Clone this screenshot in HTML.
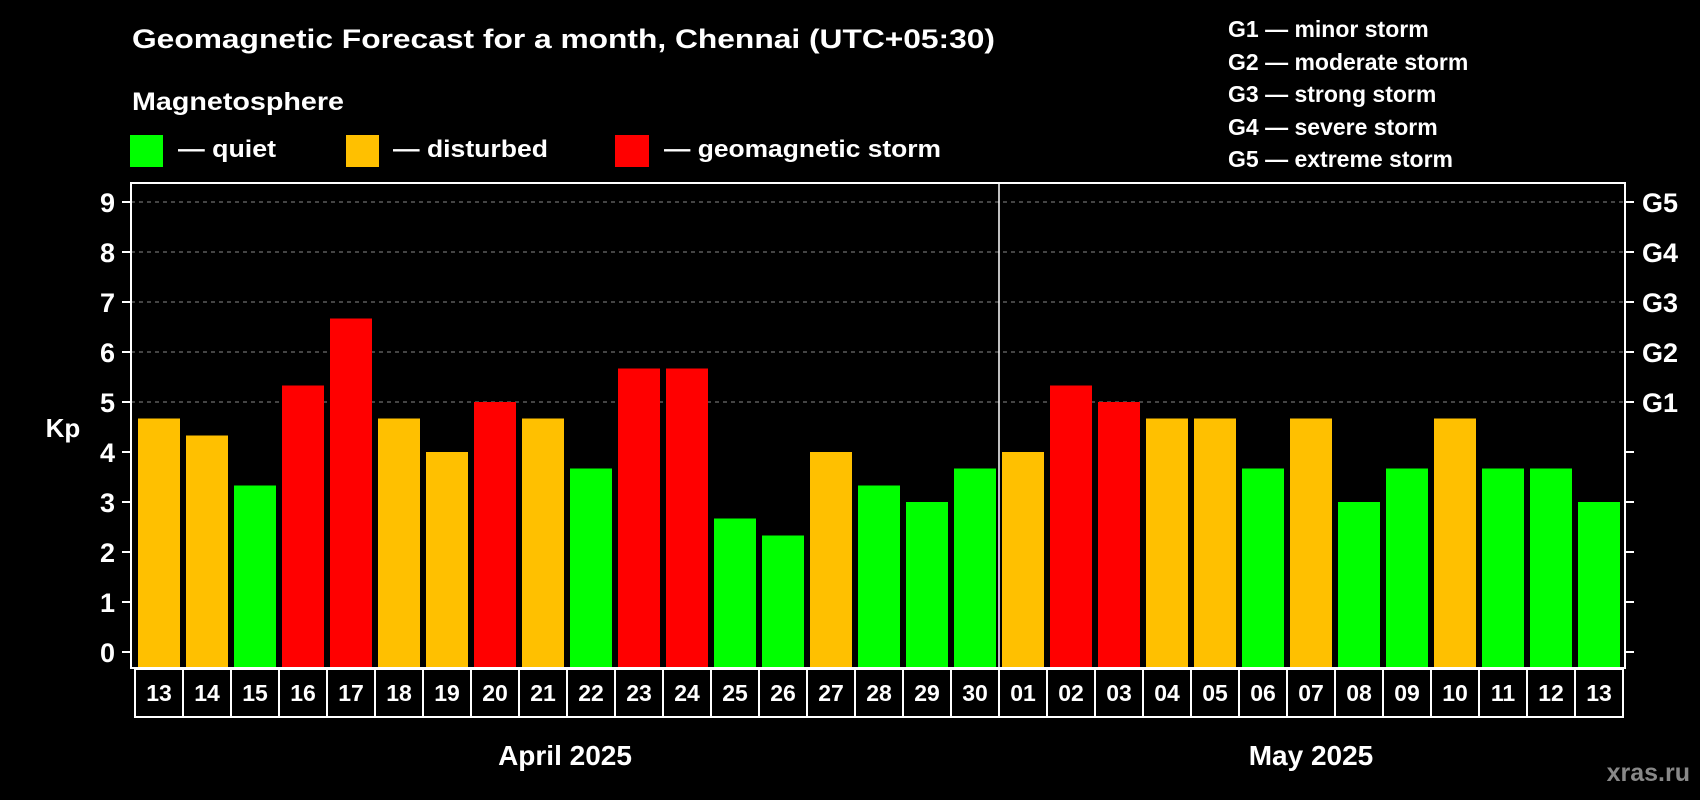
<!DOCTYPE html>
<html><head><meta charset="utf-8"><style>
body{margin:0;background:#000;}
svg{display:block;font-family:"Liberation Sans",Arial,sans-serif;font-weight:bold;}
</style></head><body>
<svg id="chart" width="1700" height="800" viewBox="0 0 1700 800">
<rect width="1700" height="800" fill="#000"/>
<text x="132" y="48" font-size="27" fill="#fff" textLength="863" lengthAdjust="spacingAndGlyphs">Geomagnetic Forecast for a month, Chennai (UTC+05:30)</text>
<text x="132" y="110" font-size="25" fill="#fff" textLength="212" lengthAdjust="spacingAndGlyphs">Magnetosphere</text>
<g><rect x="130" y="135" width="33" height="32" fill="#00ff00"/><text x="178" y="157" font-size="24" fill="#fff" textLength="98" lengthAdjust="spacingAndGlyphs">— quiet</text></g>
<g><rect x="346" y="135" width="33" height="32" fill="#ffc000"/><text x="393" y="157" font-size="24" fill="#fff" textLength="155" lengthAdjust="spacingAndGlyphs">— disturbed</text></g>
<g><rect x="615" y="135" width="34" height="32" fill="#ff0000"/><text x="664" y="157" font-size="24" fill="#fff" textLength="277" lengthAdjust="spacingAndGlyphs">— geomagnetic storm</text></g>
<g font-size="23" fill="#fff">
<text x="1228" y="37">G1 — minor storm</text>
<text x="1228" y="70">G2 — moderate storm</text>
<text x="1228" y="102">G3 — strong storm</text>
<text x="1228" y="135">G4 — severe storm</text>
<text x="1228" y="167">G5 — extreme storm</text>
</g>
<text x="63" y="437" font-size="26" fill="#fff" text-anchor="middle">Kp</text>
<g id="grid"></g><g id="bars"></g><g id="axes"></g><g id="days"></g>
<text x="565" y="765" font-size="28" fill="#fff" text-anchor="middle">April 2025</text>
<text x="1311" y="765" font-size="28" fill="#fff" text-anchor="middle">May 2025</text>
<text x="1690" y="781" font-size="25" fill="#888" text-anchor="end">xras.ru</text>
</svg>
<script>
const days = ["13","14","15","16","17","18","19","20","21","22","23","24","25","26","27","28","29","30","01","02","03","04","05","06","07","08","09","10","11","12","13"];
const kp = [4.67,4.33,3.33,5.33,6.67,4.67,4,5,4.67,3.67,5.67,5.67,2.67,2.33,4,3.33,3,3.67,4,5.33,5,4.67,4.67,3.67,4.67,3,3.67,4.67,3.67,3.67,3];
const yTicks = ["0","1","2","3","4","5","6","7","8","9"];
const gLabels = ["G1","G2","G3","G4","G5"];
const NS="http://www.w3.org/2000/svg";
const L=131,R=1625,T=183,B=668,X0=135,SLOT=48;
const y=v=>652-v*50;
const x=i=>X0+i*SLOT;
function mk(t,a,p){const e=document.createElementNS(NS,t);for(const k in a)e.setAttribute(k,a[k]);p.appendChild(e);return e;}
const grid=document.getElementById('grid'),bars=document.getElementById('bars'),axes=document.getElementById('axes'),dg=document.getElementById('days');
yTicks.forEach((t,i)=>{
  const v=+t;
  if(v>=5){const g=mk('line',{x1:L,x2:R,y1:y(v),y2:y(v),stroke:'#888','stroke-width':1,'stroke-dasharray':'4,4'},grid);
  
  }
  const tk=mk('line',{x1:L-9,x2:L,y1:y(v),y2:y(v),stroke:'#fff','stroke-width':2},axes);
  
  
  const tr=mk('line',{x1:R,x2:R+9,y1:y(v),y2:y(v),stroke:'#fff','stroke-width':2},axes);
  
  
  const lb=mk('text',{x:115,y:y(v)+10,'font-size':27,fill:'#fff','text-anchor':'end'},axes);
  lb.textContent=t;
  
  
});
gLabels.forEach((g,i)=>{
  const lb=mk('text',{x:1642,y:y(5+i)+10,'font-size':27,fill:'#fff'},axes);
  lb.textContent=g;
  
  
});
kp.forEach((v,i)=>{
  const c=v>=5?'#ff0000':(v>=4?'#ffc000':'#00ff00');
  const r=mk('rect',{x:x(i)+3,y:y(v),width:42,height:B-y(v),fill:c},bars);
  
  
});
const fr=mk('rect',{x:L,y:T,width:R-L,height:B-T,fill:'none',stroke:'#fff','stroke-width':2},axes);


const dv=mk('line',{x1:x(18),x2:x(18),y1:T,y2:B,stroke:'#fff','stroke-width':1.5},axes);


days.forEach((d,i)=>{
  const b=mk('rect',{x:x(i),y:B+1,width:SLOT,height:48,fill:'none',stroke:'#fff','stroke-width':2},dg);
  
  
  const t=mk('text',{x:x(i)+SLOT/2,y:B+33,'font-size':23,fill:'#fff','text-anchor':'middle'},dg);
  t.textContent=d;
  
  
});
</script>
</body></html>
